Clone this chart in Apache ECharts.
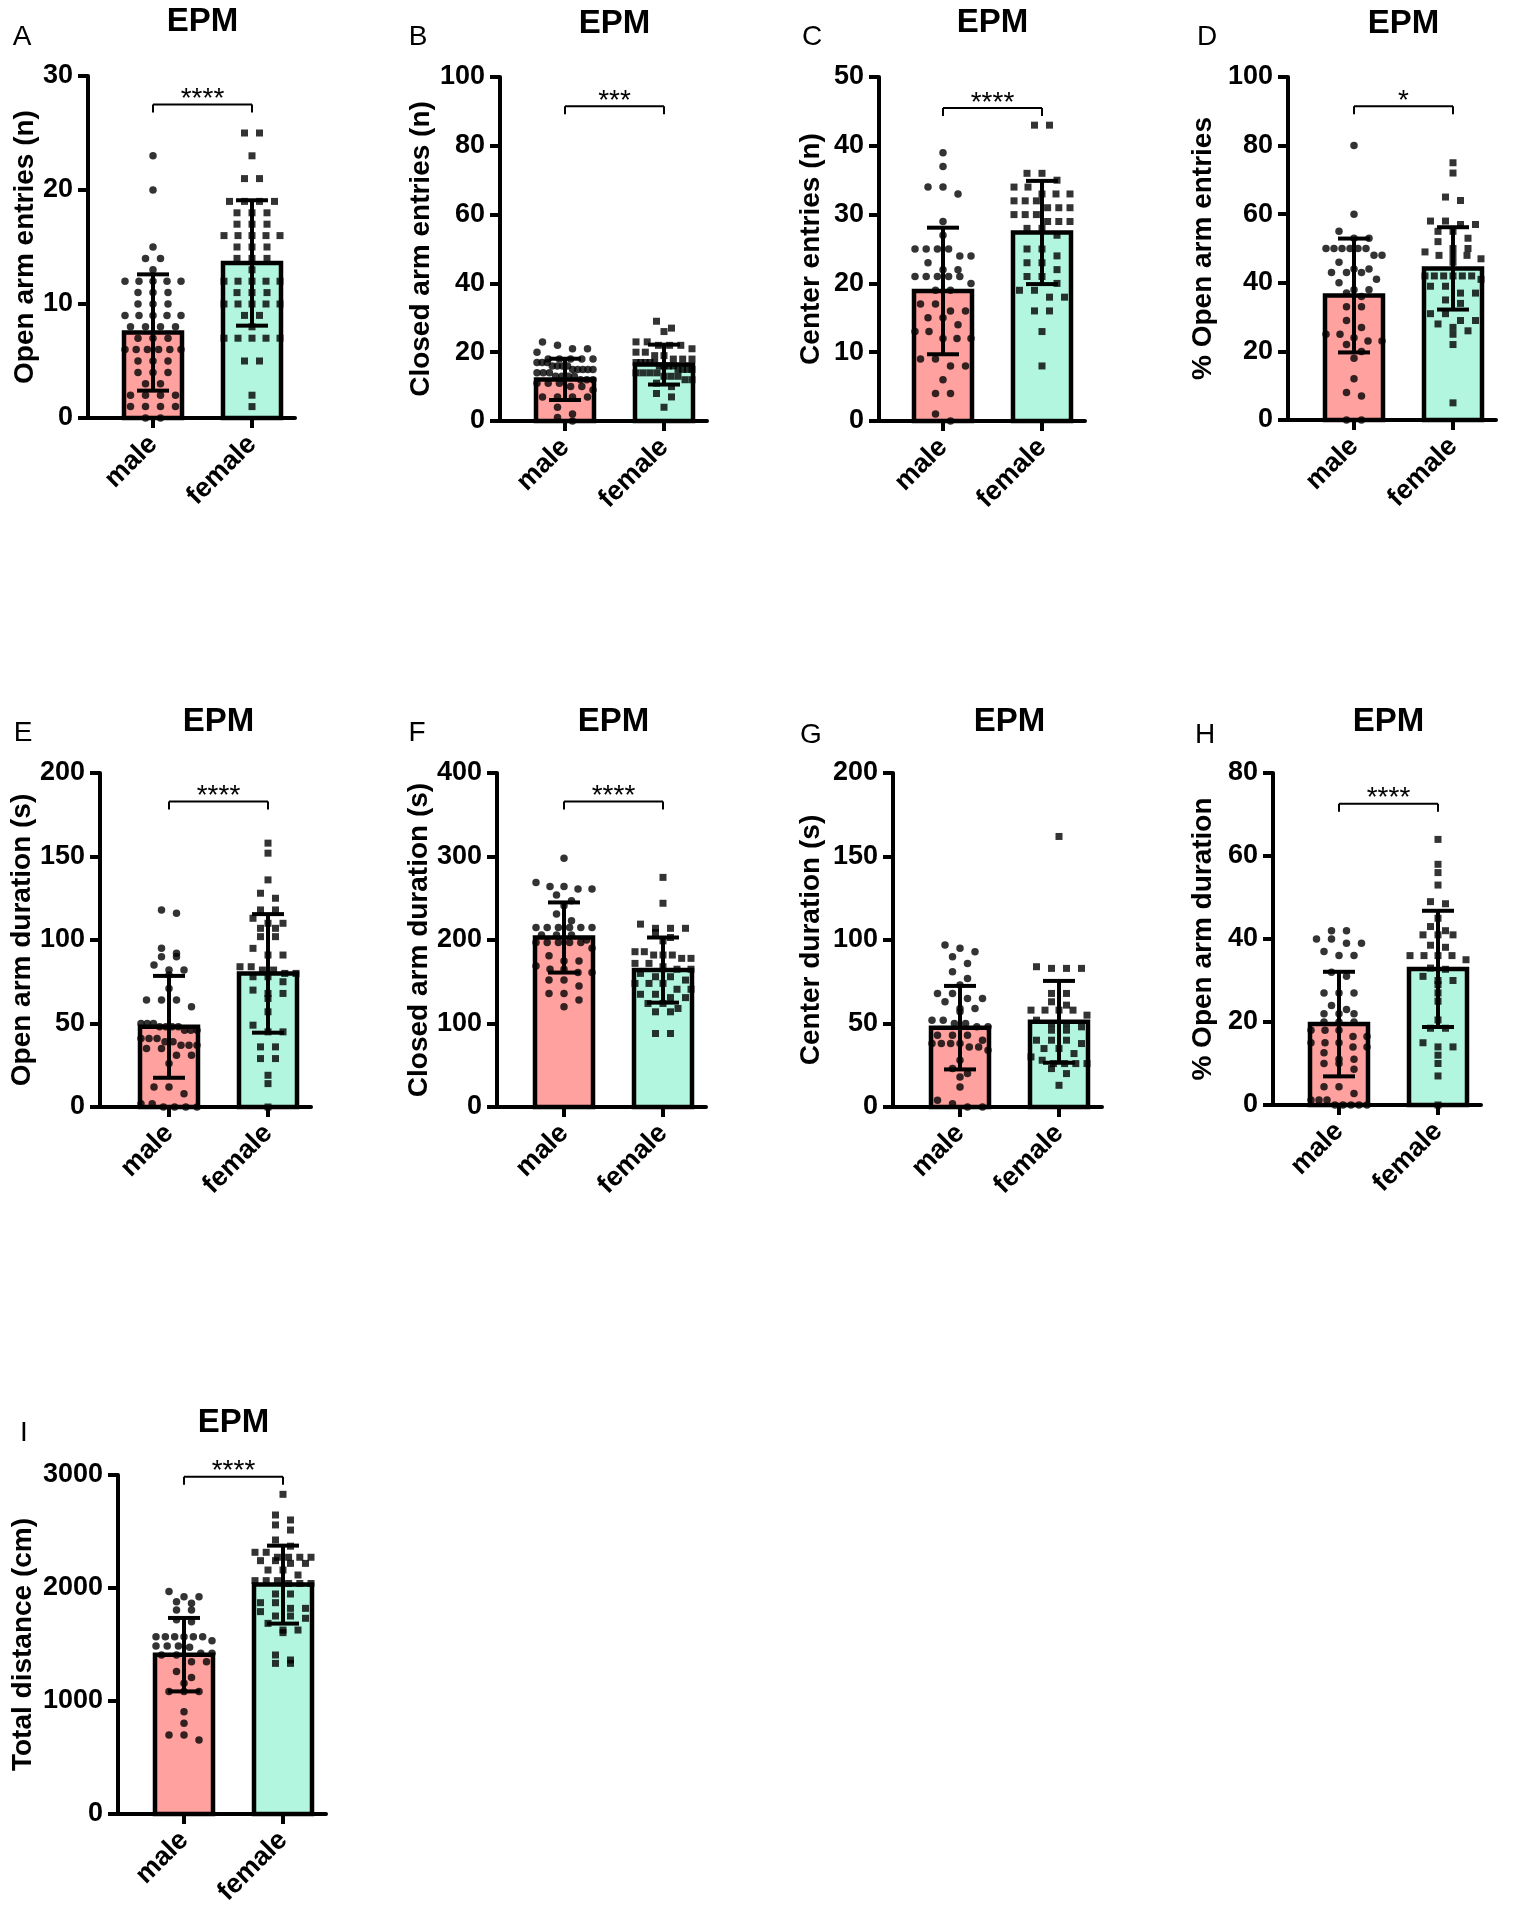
<!DOCTYPE html>
<html><head><meta charset="utf-8">
<script src="https://cdn.jsdelivr.net/npm/echarts@6/dist/echarts.min.js"></script>
<style>html,body{margin:0;padding:0;background:#fff}#c{width:1529px;height:1920px}</style>
</head><body><div id="c"></div>
<script>
// ---------------- DATA ----------------
const categories = ['male', 'female'];
const panelLetters = ['A','B','C','D','E','F','G','H','I'];
const panelTitle = 'EPM';
const yTitles = ['Open arm entries (n)','Closed arm entries (n)','Center entries (n)','% Open arm entries',
  'Open arm duration (s)','Closed arm duration (s)','Center duration (s)','% Open arm duration','Total distance (cm)'];
const yMax  = [30, 100, 50, 100, 200, 400, 200, 80, 3000];
const yStep = [10, 20, 10, 20, 50, 100, 50, 20, 1000];
const sigText  = ['****','***','****','*','****','****','','****','****'];
const sigLevel = [27.5, 91.5, 45.5, 91.5, 183, 366, null, 72.6, 2985];

const maleMean   = [7.5, 12.1, 18.9, 36.3, 48, 203, 47.5, 19.5, 1410];
const maleSD     = [5.1, 6.0, 9.2, 16.6, 30.5, 42, 25, 12.6, 325];
const femaleMean = [13.6, 16.4, 27.4, 44.2, 80, 164, 51, 32.8, 2030];
const femaleSD   = [5.5, 5.8, 7.5, 12, 35.5, 39, 24.5, 14, 345];

const maleA = [23,20,15,14,14,13,12,12,12,12,12,11,11,11,10,10,10,9,9,9,9,9,8,8,8,8,7,7,7,6,6,6,6,6,6,5,5,5,4,4,4,3,3,2,2,2,2,1,1,1,1,0,0];
const femaleA = [25,25,23,21,21,19,19,19,19,18,18,18,17,17,17,16,16,16,16,16,15,15,15,14,14,14,13,12,12,12,12,12,11,11,11,10,10,10,10,10,9,9,8,7,7,7,7,7,5,5,2,1];
const maleB = [23,22,21,21,20,18,18,18,18,18,17,17,17,16,16,16,16,15,15,15,15,15,14,14,14,13,13,13,13,12,12,12,11,11,11,10,10,9,7,7,7,7,4,2,1,0];
const femaleB = [29,27,26,23,23,22,22,22,21,20,20,19,19,18,18,18,17,17,17,17,17,16,16,16,16,15,15,15,15,14,14,14,14,13,13,13,12,12,11,10,8,7,4];
const maleC = [39,37,34,34,33,29,27,25,25,25,25,24,24,23,22,22,21,21,21,21,21,20,19,19,17,17,16,16,15,15,14,13,13,12,12,12,9,9,8,8,6,4,4,1,0];
const femaleC = [43,43,36,36,35,34,34,33,33,33,32,32,32,31,31,31,30,30,30,29,29,29,28,28,27,25,25,24,23,23,22,21,21,20,19,19,18,18,16,16,13,8];
const maleD = [80,60,55,53,53,50,50,50,50,50,50,48,48,46,44,44,43,43,43,41,40,38,38,37,36,33,33,29,27,25,25,24,23,23,22,20,18,12,8,7,0,0];
const femaleD = [75,72,65,64,58,58,57,57,55,55,53,52,50,50,49,48,48,48,47,46,42,42,42,42,42,42,41,39,39,37,37,35,34,31,31,29,29,28,27,26,25,22,5];
const maleE = [118,116,95,92,90,90,85,82,82,79,71,64,64,64,60,50,50,50,48,48,48,48,46,46,46,41,41,41,39,39,37,37,37,35,35,31,31,26,12,12,8,2,2,0,0,0,0];
const femaleE = [158,152,136,128,125,118,118,113,110,110,107,107,102,102,95,91,91,84,84,82,82,80,80,78,78,75,70,68,68,65,57,49,45,45,36,36,29,29,19,14,0];
const maleF = [298,269,264,264,261,261,254,247,241,231,223,215,215,215,215,215,215,206,206,206,200,197,197,197,197,197,190,181,175,175,169,165,165,161,161,152,152,145,136,136,128,120];
const femaleF = [275,244,219,214,214,214,209,203,199,186,186,182,182,182,178,178,172,172,168,165,165,160,156,156,152,148,148,148,141,141,135,135,131,131,124,124,118,114,114,88,88];
const maleG = [97,95,93,90,86,81,77,73,68,68,65,65,63,59,59,57,52,52,50,50,48,48,43,43,43,40,38,38,38,38,36,36,34,28,23,20,18,12,4,2,0,0];
const femaleG = [162,84,83,83,83,68,68,63,61,58,58,58,58,55,52,50,50,48,46,46,40,40,40,38,35,35,32,30,28,26,26,26,26,23,20,13];
const maleH = [42,42,40,40,39,39,37,36,36,32,31,27,27,27,24,23,22,22,22,20,20,20,18,18,18,16.5,16.5,15,15,15,14,14,12.6,11,11,10,10,8.6,4.4,4.4,2.8,1.2,1.2,1.2,0,0,0,0,0];
const femaleH = [64,58,56,53,49,48.5,45,43,42,41,41,41,38.5,38,36,36,36,36,35,33,32.7,31,30,30,29,27,25,20.5,18.5,18.5,15,14,14,12,10,7,0];
const maleI = [1968,1923,1923,1879,1864,1805,1805,1720,1702,1569,1569,1569,1569,1569,1569,1534,1487,1487,1487,1475,1422,1422,1407,1407,1348,1348,1260,1209,1156,1083,1083,1083,905,802,699,699,655];
const femaleI = [2829,2646,2602,2558,2513,2425,2370,2316,2316,2272,2272,2272,2272,2242,2242,2218,2218,2159,2159,2115,2065,2065,2065,2040,2040,2040,1947,1947,1870,1870,1820,1820,1791,1752,1752,1732,1687,1628,1628,1605,1407,1363,1333,1333];

const maleData = [maleA, maleB, maleC, maleD, maleE, maleF, maleG, maleH, maleI];
const femaleData = [femaleA, femaleB, femaleC, femaleD, femaleE, femaleF, femaleG, femaleH, femaleI];

// ---------------- LAYOUT (pixels) ----------------
const layout = [
  {axisX: 88,   top: 76,   zero: 418,  male: 153,  nameGap: 48, lx: 22,   ly: 37,   ty: 22},
  {axisX: 500,  top: 77,   zero: 421,  male: 565,  nameGap: 65, lx: 418,  ly: 37,   ty: 24},
  {axisX: 879,  top: 77,   zero: 421,  male: 943,  nameGap: 54, lx: 812,  ly: 37,   ty: 23},
  {axisX: 1288, top: 77,   zero: 420,  male: 1354, nameGap: 71, lx: 1207, ly: 37,   ty: 24},
  {axisX: 100,  top: 773,  zero: 1107, male: 169,  nameGap: 63, lx: 23,   ly: 733,  ty: 722},
  {axisX: 497,  top: 773,  zero: 1107, male: 564,  nameGap: 64, lx: 417,  ly: 733,  ty: 722},
  {axisX: 893,  top: 773,  zero: 1107, male: 960,  nameGap: 68, lx: 811,  ly: 735,  ty: 722},
  {axisX: 1273, top: 773,  zero: 1105, male: 1339, nameGap: 56, lx: 1205, ly: 735,  ty: 722},
  {axisX: 118,  top: 1475, zero: 1814, male: 184,  nameGap: 81, lx: 24,   ly: 1433, ty: 1423}
];
const UNIT = 99;          // px between male and female centres
const RIGHT_EXT = 142;    // px from male centre to end of x axis
const FONT = '"Liberation Sans", Arial, Helvetica, sans-serif';
const barColors = ['#ffa19e', '#b3f6df'];
const SYM = 7.5;
const LW = 4;

function swarm(values, pxPerUnit, centre) {
  const sorted = values.slice().sort((a, b) => b - a);
  const rows = []; let cur = null;
  for (const v of sorted) {
    if (cur && (cur.anchor - v) * pxPerUnit < SYM) cur.items.push(v);
    else { cur = {anchor: v, items: [v]}; rows.push(cur); }
  }
  const out = [];
  rows.forEach(r => {
    const n = r.items.length;
    const sp = n > 1 ? Math.min(15, 56 / (n - 1)) : 0;
    r.items.forEach((v, i) => {
      const off = (i - (n - 1) / 2) * sp;
      out.push([centre + off / UNIT, v]);
    });
  });
  return out;
}

const grids = [], xAxes = [], yAxes = [], series = [], graphics = [];
layout.forEach((L, i) => {
  const right = L.male + RIGHT_EXT;
  grids.push({left: L.axisX, top: L.top, width: right - L.axisX, height: L.zero - L.top,
              containLabel: false, outerBoundsMode: 'none'});
  xAxes.push({
    type: 'value', gridIndex: i, min: -(L.male - L.axisX) / UNIT, max: RIGHT_EXT / UNIT,
    splitLine: {show: false},
    axisLine: {show: true, onZero: false, lineStyle: {color: '#000', width: LW}},
    axisTick: {show: true, customValues: [0, 1], length: 10, lineStyle: {color: '#000', width: LW}},
    axisLabel: {show: true, customValues: [0, 1], formatter: v => categories[Math.round(v)] || '',
      rotate: 45, margin: 22, color: '#000', fontSize: 27, fontWeight: 'bold', fontFamily: FONT}
  });
  yAxes.push({
    type: 'value', gridIndex: i, min: 0, max: yMax[i], interval: yStep[i],
    splitLine: {show: false},
    axisLine: {show: true, onZero: false, lineStyle: {color: '#000', width: LW}},
    axisTick: {show: true, length: 10, lineStyle: {color: '#000', width: LW}},
    axisLabel: {margin: 15, color: '#000', fontSize: 27, fontWeight: 'bold', fontFamily: FONT,
      formatter: v => String(v)},
    name: yTitles[i], nameLocation: 'middle', nameGap: L.nameGap, nameRotate: 90,
    nameTextStyle: {color: '#000', fontSize: 28, fontWeight: 'bold', fontFamily: FONT}
  });
  const pxPerUnit = (L.zero - L.top) / yMax[i];

  series.push({
    type: 'custom', xAxisIndex: i, yAxisIndex: i, z: 1, silent: true,
    data: [[0, maleMean[i]], [1, femaleMean[i]]],
    renderItem: (p, api) => {
      const x = api.value(0), y = api.value(1);
      const t = api.coord([x, y]), b = api.coord([x, 0]);
      return {type: 'rect', shape: {x: t[0] - 29, y: t[1], width: 58, height: b[1] - t[1]},
              style: {fill: barColors[p.dataIndex], stroke: '#000', lineWidth: LW + 0.5}};
    }
  });
  series.push({
    type: 'scatter', xAxisIndex: i, yAxisIndex: i, z: 2, silent: true, clip: false,
    symbol: 'circle', symbolSize: SYM, itemStyle: {color: '#000'},
    data: swarm(maleData[i], pxPerUnit, 0)
  });
  series.push({
    type: 'scatter', xAxisIndex: i, yAxisIndex: i, z: 2, silent: true, clip: false,
    symbol: 'rect', symbolSize: 7, itemStyle: {color: '#000'},
    data: swarm(femaleData[i], pxPerUnit, 1)
  });
  series.push({
    type: 'custom', xAxisIndex: i, yAxisIndex: i, z: 3, silent: true,
    data: [[0, maleMean[i], maleSD[i]], [1, femaleMean[i], femaleSD[i]]],
    renderItem: (p, api) => {
      const x = api.value(0), m = api.value(1), s = api.value(2);
      const hi = api.coord([x, m + s]), lo = api.coord([x, m - s]);
      const hw = 16, st = {stroke: '#000', lineWidth: LW};
      return {type: 'group', children: [
        {type: 'line', shape: {x1: hi[0], y1: hi[1], x2: lo[0], y2: lo[1]}, style: st},
        {type: 'line', shape: {x1: hi[0] - hw, y1: hi[1], x2: hi[0] + hw, y2: hi[1]}, style: st},
        {type: 'line', shape: {x1: lo[0] - hw, y1: lo[1], x2: lo[0] + hw, y2: lo[1]}, style: st}
      ]};
    }
  });
  if (sigText[i]) {
    series.push({
      type: 'custom', xAxisIndex: i, yAxisIndex: i, z: 3, silent: true,
      data: [[0, 1, sigLevel[i]]],
      renderItem: (p, api) => {
        const a = api.coord([api.value(0), api.value(2)]), b = api.coord([api.value(1), api.value(2)]);
        const st = {stroke: '#000', lineWidth: 2};
        return {type: 'group', children: [
          {type: 'line', shape: {x1: a[0], y1: a[1], x2: b[0], y2: b[1]}, style: st},
          {type: 'line', shape: {x1: a[0], y1: a[1], x2: a[0], y2: a[1] + 8}, style: st},
          {type: 'line', shape: {x1: b[0], y1: b[1], x2: b[0], y2: b[1] + 8}, style: st},
          {type: 'text', x: (a[0] + b[0]) / 2, y: a[1] - 5,
           style: {text: sigText[i], fill: '#000', fontSize: 28, fontFamily: FONT, align: 'center', verticalAlign: 'middle'}}
        ]};
      }
    });
  }
  graphics.push({type: 'text', x: L.male + UNIT / 2, y: L.ty,
    style: {text: panelTitle, fill: '#000', fontSize: 33, fontWeight: 'bold', fontFamily: FONT, align: 'center', verticalAlign: 'middle'}});
  graphics.push({type: 'text', x: L.lx, y: L.ly,
    style: {text: panelLetters[i], fill: '#000', fontSize: 28, fontFamily: FONT, align: 'center', verticalAlign: 'middle'}});
});

const chart = echarts.init(document.getElementById('c'), null, {renderer: 'canvas', width: 1529, height: 1920});
chart.setOption({
  animation: false,
  backgroundColor: '#fff',
  grid: grids, xAxis: xAxes, yAxis: yAxes, series: series, graphic: graphics
});
</script>
</body></html>
